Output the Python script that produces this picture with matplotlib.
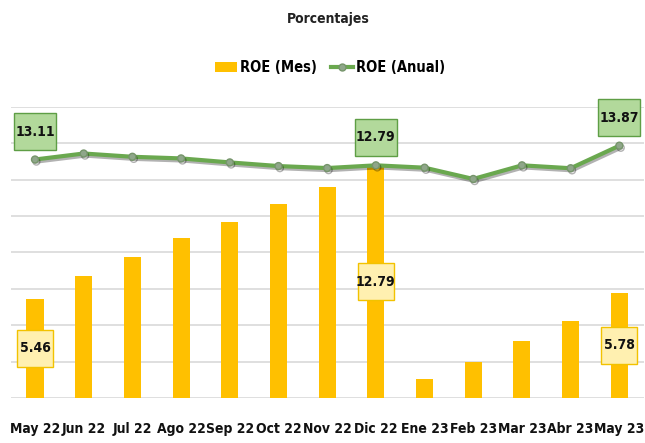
import matplotlib
matplotlib.use("Agg")
import matplotlib.pyplot as plt
from matplotlib.lines import Line2D
from matplotlib.patches import Patch, Rectangle
from matplotlib.transforms import ScaledTranslation
import matplotlib.patheffects as pe

plt.rcParams['font.family'] = ['DejaVu Sans']
plt.rcParams['font.stretch'] = 'condensed'

categories = ["May 22", "Jun 22", "Jul 22", "Ago 22", "Sep 22", "Oct 22", "Nov 22",
              "Dic 22", "Ene 23", "Feb 23", "Mar 23", "Abr 23", "May 23"]
roe_mes = [5.46, 6.72, 7.73, 8.81, 9.69, 10.68, 11.58, 12.79, 1.06, 1.98, 3.15, 4.25, 5.78]
roe_anual = [13.11, 13.44, 13.26, 13.17, 12.95, 12.75, 12.64, 12.79, 12.66, 12.04, 12.79, 12.63, 13.87]
bar_label_idx = [0, 7, 12]
line_label_idx = [0, 7, 12]

fig = plt.figure(figsize=(6.45, 4.43), dpi=100)
ax = fig.add_axes([0.0165, 0.1016, 0.9815, 0.657])
x = list(range(len(categories)))

ax.set_ylim(0, 16)
ax.set_xlim(-0.5, len(categories) - 0.5)
ax.set_yticks(range(0, 17, 2))
ax.yaxis.grid(True, color='#d9d9d9', linewidth=1.2)
ax.set_axisbelow(True)
for s in ax.spines.values():
    s.set_visible(False)
ax.tick_params(axis='y', left=False, labelleft=False)
ax.tick_params(axis='x', bottom=False, pad=14)
ax.set_xticks(x)
ax.set_xticklabels(categories, fontsize=10, fontweight='bold', color='#111111')

ax.bar(x, roe_mes, width=0.35, color='#FFC000', zorder=2)
ax.plot(x, roe_anual, color='#6AA84F', linewidth=3, marker='o', markersize=5,
        markerfacecolor='#8FA68A', markeredgecolor='#76956b', zorder=3,
        path_effects=[pe.SimpleLineShadow(offset=(1, -1.5), alpha=0.3), pe.Normal()])


def label_box(xv, yv, text, dy_in, face, edge, w_in=0.42, h_in=0.37):
    tr = fig.dpi_scale_trans + ScaledTranslation(xv, yv, ax.transData)
    ax.add_patch(Rectangle((-w_in / 2, dy_in - h_in / 2), w_in, h_in, transform=tr,
                           facecolor=face, edgecolor=edge, linewidth=1, zorder=5,
                           clip_on=False))
    ax.annotate(text, (xv, yv), xytext=(0, dy_in * 72), textcoords='offset points',
                ha='center', va='center', fontsize=10, fontweight='bold',
                color='#111111', zorder=6)


for i in bar_label_idx:
    label_box(x[i], roe_mes[i] / 2, f"{roe_mes[i]:.2f}", 0.0, '#FFF0B0', '#F2C200', w_in=0.36)

for i in line_label_idx:
    label_box(x[i], roe_anual[i], f"{roe_anual[i]:.2f}", 0.28, '#B2D99B', '#5E9E45')

fig.text(0.509, 0.958, "Porcentajes", ha='center', va='center', fontsize=10,
         fontweight='bold', color='#222222')

handles = [Patch(facecolor='#FFC000', edgecolor='none'),
           Line2D([0], [0], color='#6AA84F', linewidth=3, marker='o', markersize=5,
                  markerfacecolor='#8FA68A', markeredgecolor='#76956b')]
fig.legend(handles, ["ROE (Mes)", "ROE (Anual)"], loc='center', bbox_to_anchor=(0.512, 0.847),
           ncol=2, frameon=False, handlelength=1.5, handletextpad=0.2,
           columnspacing=1.0, prop={'weight': 'bold', 'size': 10.5, 'stretch': 'condensed'})

fig.savefig("out.png", dpi=100)
